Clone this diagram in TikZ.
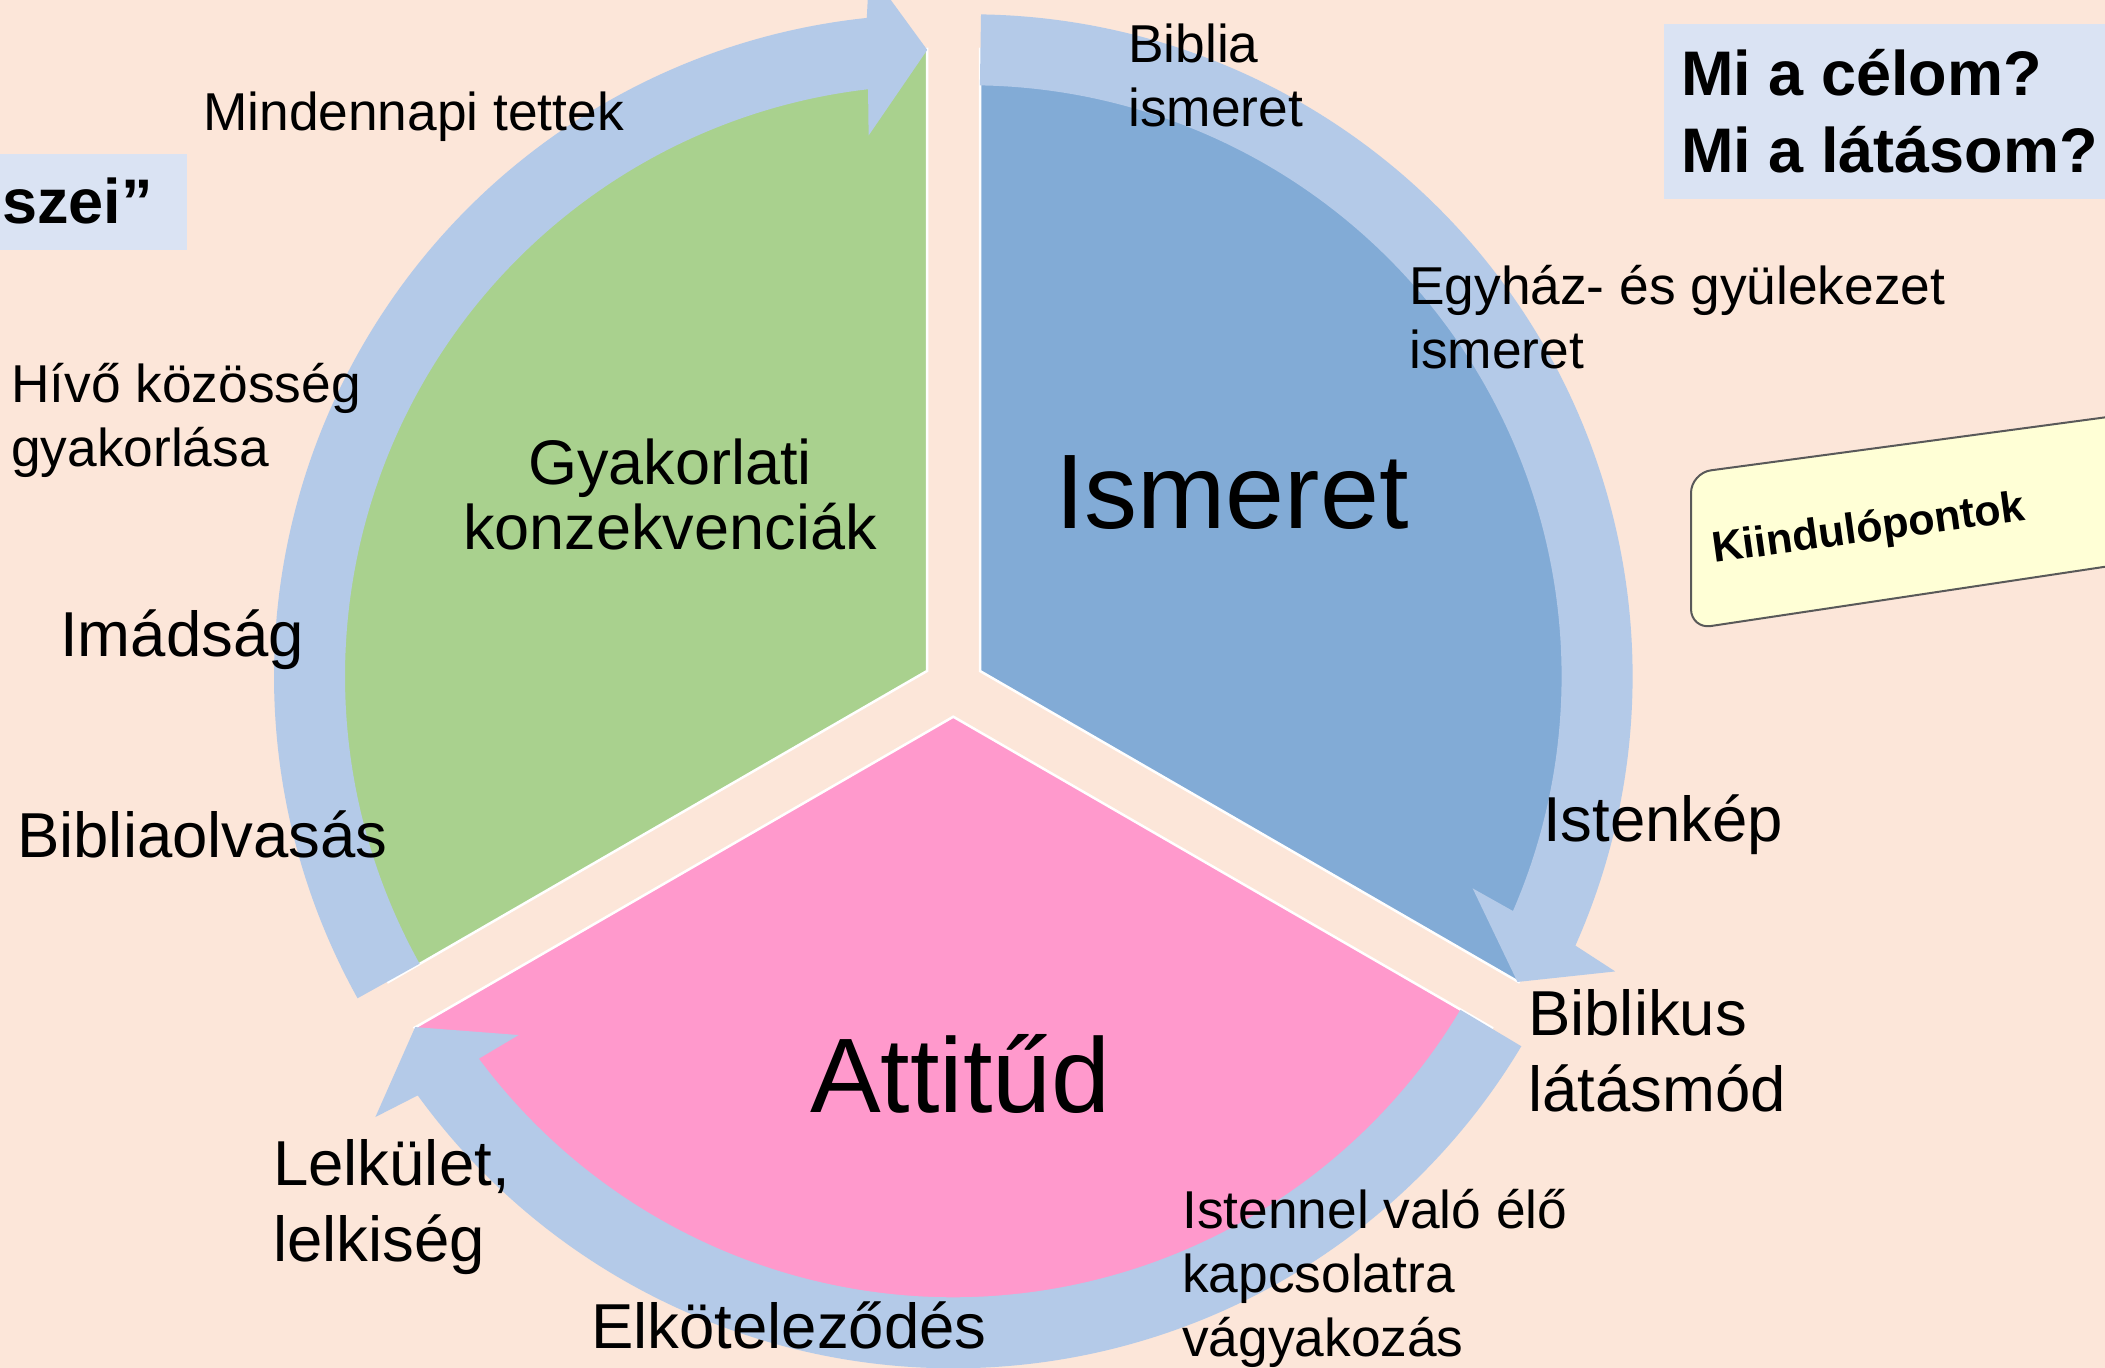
\documentclass[tikz,border=0pt]{standalone}
\usepackage{fontspec}
\setmainfont{Liberation Sans}

\definecolor{bgpeach}{HTML}{FCE6D9}
\definecolor{ringblue}{HTML}{B4CAE8}
\definecolor{blueseg}{HTML}{82ABD6}
\definecolor{greenseg}{HTML}{A9D18E}
\definecolor{pinkseg}{HTML}{FF99CC}
\definecolor{boxblue}{HTML}{DAE3F3}
\definecolor{noteyellow}{HTML}{FFFFD6}

\begin{document}
\begin{tikzpicture}[x=1pt,y=1pt,
	seg/.style={draw=white,line width=2.5pt,line join=miter},
	small/.style={font=\fontsize{53.3}{64}\selectfont,align=left,anchor=base west,inner sep=0},
	medium/.style={font=\fontsize{63.5}{76}\selectfont,align=left,anchor=base west,inner sep=0},
	big/.style={font=\fontsize{106}{127}\selectfont,anchor=base west,inner sep=0},
	title/.style={font=\bfseries\fontsize{63}{77}\selectfont,align=left,inner sep=0}]
\clip (0,0) rectangle (2105,-1368);
\fill[bgpeach] (0,0) rectangle (2105,-1368);

% the three segments
\fill[greenseg,seg] (927,-671) -- ++(90:622) arc[start angle=90,end angle=210,radius=622pt] -- cycle;
\fill[blueseg,seg] (980,-671) -- ++(90:622) arc[start angle=90,end angle=-30,radius=622pt] -- cycle;
\fill[pinkseg,seg] (953.3,-716.7) -- ++(210:622) arc[start angle=210,end angle=330,radius=622pt] -- cycle;

% the ring of arrows
\begin{scope}[shift={(953.3,-686.3)}]
	\foreach \b in {30,270,150} {
		\begin{scope}[shift={(\b:20)}]
		\fill[ringblue] (\b+59.1:662) arc[start angle=\b+59.1,end angle=\b-54,radius=662pt]
			-- (\b-54.6:709) -- (\b-59.2:626.5) -- (\b-52.9:545) -- (\b-53.4:591)
			arc[start angle=\b-53.4,end angle=\b+59.1,radius=591pt] -- cycle;
		\end{scope}
		}
\end{scope}

% boxes
\fill[boxblue] (0,-154) rectangle (187,-250);
\fill[boxblue] (1664,-24) rectangle (2105,-199);
\filldraw[noteyellow,draw=gray!70!black,line width=2pt,rounded corners=20pt]
	(2130,-414) -- (1691,-473) -- (1691,-629) -- (2130,-563);

\node (szei) at (153,-223) [title,anchor=base east] {szei”};
\node (celom) at (1681,-172) [title,anchor=base west] {Mi a célom?\\Mi a látásom?};
\node (kiindulo) at (1714,-563) [anchor=base west,inner sep=0,rotate=7.8,
	font=\bfseries\fontsize{43}{50}\selectfont] {Kiindulópontok};

\node (mindennapi) at (203,-130) [small] {Mindennapi tettek};
\node (hivo) at (11,-466) [small] {Hívő közösség\\gyakorlása};
\node (gyakorlati) at (670,-549) [font=\fontsize{63}{65}\selectfont,align=center,anchor=base,inner sep=0] {Gyakorlati\\konzekvenciák};
\node (imadsag) at (60,-656) [medium] {Imádság};
\node (bibliaolv) at (17,-857) [medium] {Bibliaolvasás};
\node (lelkulet) at (273,-1261) [medium] {Lelkület,\\lelkiség};
\node (elkot) at (591,-1348) [medium] {Elköteleződés};
\node (biblia) at (1128,-126) [small] {Biblia\\ismeret};
\node (egyhaz) at (1409,-368) [small] {Egyház- és gyülekezet\\ismeret};
\node (ismeret) at (1055,-528) [big] {Ismeret};
\node (istenkep) at (1543,-841) [medium] {Istenkép};
\node (biblikus) at (1528,-1111) [medium] {Biblikus\\látásmód};
\node (istennel) at (1182,-1356) [small] {Istennel való élő\\kapcsolatra\\vágyakozás};
\node (attitud) at (810,-1112) [big] {Attitűd};
\end{tikzpicture}
\end{document}
